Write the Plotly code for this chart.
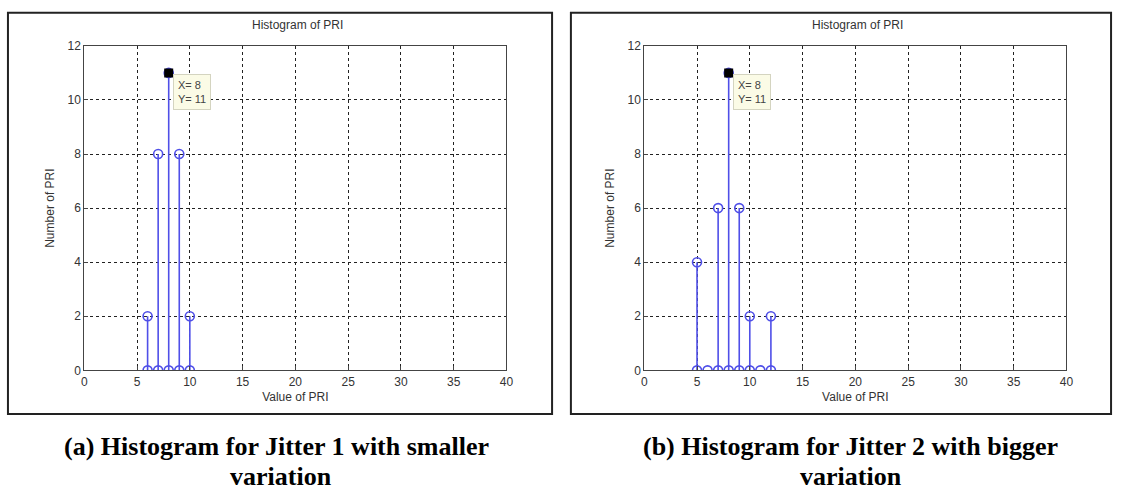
import plotly.graph_objects as go

# Histogram counts of PRI values for two jitter settings
pri_a = [6, 7, 8, 9, 10]
count_a = [2, 8, 11, 8, 2]

pri_b = [5, 6, 7, 8, 9, 10, 11, 12]
count_b = [4, 0, 6, 11, 6, 2, 0, 2]

# Data tip shown on each plot
tip_x = 8
tip_y = 11

x_ticks = [0, 5, 10, 15, 20, 25, 30, 35, 40]
y_ticks = [0, 2, 4, 6, 8, 10, 12]

captions_a = ["(a) Histogram for Jitter 1 with smaller", "variation"]
captions_b = ["(b) Histogram for Jitter 2 with bigger", "variation"]

W, H = 1124, 492
STEM = "#4f4fe8"
AX_FONT = "Liberation Sans, Arial, sans-serif"
CAP_FONT = "Liberation Serif, Times New Roman, serif"


def px_x(p):
    return p / W


def px_y(p):
    return 1 - p / H


def stem_traces(xs, ys, xa, ya):
    lx, ly = [], []
    for x, y in zip(xs, ys):
        lx += [x, x, None]
        ly += [0, y, None]
    stems = go.Scatter(x=lx, y=ly, mode="lines", line=dict(color=STEM, width=1.6),
                       xaxis=xa, yaxis=ya, hoverinfo="skip", showlegend=False)
    tops = go.Scatter(x=[x for x, y in zip(xs, ys) if y > 0],
                      y=[y for y in ys if y > 0], mode="markers",
                      marker=dict(symbol="circle-open", size=9, color=STEM,
                                  line=dict(width=1.6, color=STEM)),
                      xaxis=xa, yaxis=ya, showlegend=False)
    base = go.Scatter(x=xs, y=[0] * len(xs), mode="markers",
                      marker=dict(symbol="circle-open", size=9, color=STEM,
                                  line=dict(width=1.6, color=STEM)),
                      xaxis=xa, yaxis=ya, showlegend=False)
    tip = go.Scatter(x=[tip_x], y=[tip_y], mode="markers",
                     marker=dict(symbol="square", size=9, color="black",
                                 line=dict(width=0)),
                     xaxis=xa, yaxis=ya, showlegend=False)
    return [stems, tops, base, tip]


fig = go.Figure()
for t in stem_traces(pri_a, count_a, "x", "y"):
    fig.add_trace(t)
for t in stem_traces(pri_b, count_b, "x2", "y2"):
    fig.add_trace(t)

y_dom = [px_y(374), px_y(40)]
common_x = dict(range=[0, 40], tickvals=x_ticks, showgrid=True, griddash="dot",
                gridcolor="#222", gridwidth=1, showline=True, mirror=True,
                linecolor="#444", linewidth=1, ticks="inside", ticklen=4,
                tickcolor="#444", zeroline=False,
                tickfont=dict(family=AX_FONT, size=12, color="#333"),
                title=dict(text="Value of PRI", standoff=4,
                           font=dict(family=AX_FONT, size=12, color="#333")))
common_y = dict(range=[0, 12], tickvals=y_ticks, showgrid=True, griddash="dot",
                gridcolor="#222", gridwidth=1, showline=True, mirror=True,
                linecolor="#444", linewidth=1, ticks="inside", ticklen=4,
                tickcolor="#444", zeroline=False, domain=y_dom,
                tickfont=dict(family=AX_FONT, size=12, color="#333"),
                title=dict(text="Number of PRI", standoff=10,
                           font=dict(family=AX_FONT, size=12, color="#333")))

fig.update_layout(
    width=W, height=H,
    margin=dict(l=0, r=0, t=0, b=0),
    paper_bgcolor="white", plot_bgcolor="white",
    xaxis=dict(domain=[px_x(82), px_x(508)], anchor="y", **common_x),
    yaxis=dict(anchor="x", **common_y),
    xaxis2=dict(domain=[px_x(647), px_x(1073)], anchor="y2", **common_x),
    yaxis2=dict(anchor="x2", **common_y),
)

shapes = []
# outer figure frames
for x0, x1 in [(5, 554), (573, 1118)]:
    shapes.append(dict(type="rect", xref="paper", yref="paper",
                       x0=px_x(x0), x1=px_x(x1), y0=px_y(419), y1=px_y(6),
                       line=dict(color="#222", width=2)))
fig.update_layout(shapes=shapes)

annotations = []
for cx, xr, yr in [(297, "x", "y"), (862, "x2", "y2")]:
    annotations.append(dict(text="Histogram of PRI", xref="paper", yref="paper",
                            x=px_x(cx), y=px_y(19), xanchor="center", yanchor="middle",
                            showarrow=False,
                            font=dict(family=AX_FONT, size=12, color="#333")))
    annotations.append(dict(text="X= %d<br>Y= %d" % (tip_x, tip_y), xref=xr, yref=yr,
                            x=tip_x, y=tip_y, xanchor="left", yanchor="top",
                            xshift=4, yshift=-1, showarrow=False, align="left",
                            bgcolor="#fbfbe6", bordercolor="#d4d4c0", borderwidth=1,
                            borderpad=4,
                            font=dict(family=AX_FONT, size=11, color="#444")))

for (l1, l2), c1, c2 in [(captions_a, 276, 280), (captions_b, 855, 856)]:
    annotations.append(dict(text="<b>%s</b>" % l1, xref="paper", yref="paper",
                            x=px_x(c1), y=px_y(452), xanchor="center", yanchor="middle",
                            showarrow=False,
                            font=dict(family=CAP_FONT, size=26, color="black")))
    annotations.append(dict(text="<b>%s</b>" % l2, xref="paper", yref="paper",
                            x=px_x(c2), y=px_y(483), xanchor="center", yanchor="middle",
                            showarrow=False,
                            font=dict(family=CAP_FONT, size=26, color="black")))

fig.update_layout(annotations=annotations)

fig.write_html("out.html")
